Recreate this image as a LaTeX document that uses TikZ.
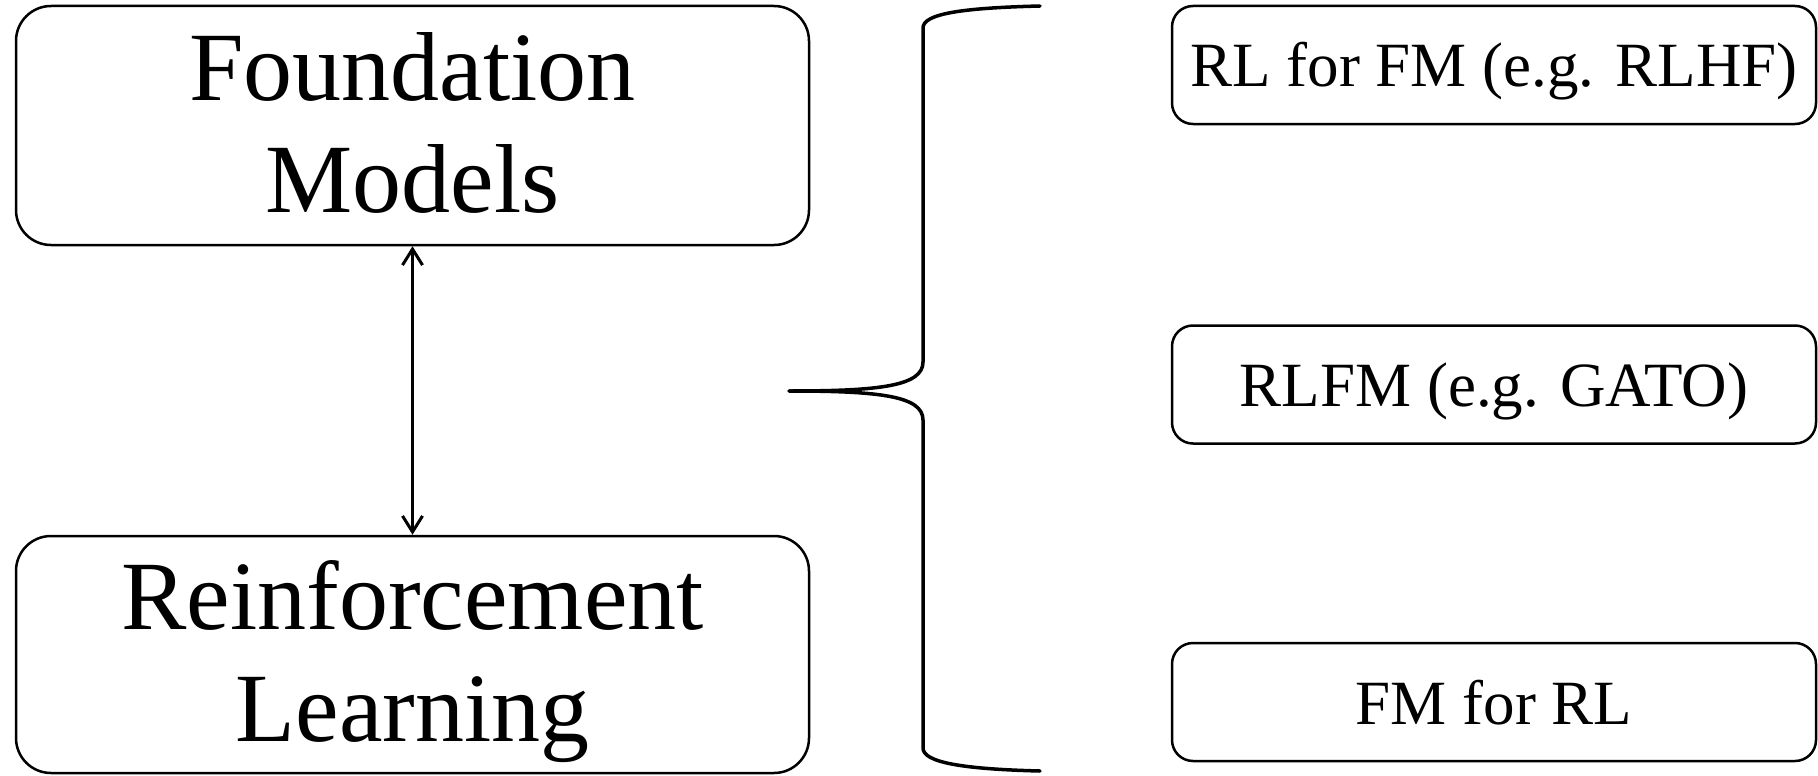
\documentclass[tikz,border=0pt]{standalone}
\usepackage{fontspec}
\setmainfont{Liberation Serif}
\usetikzlibrary{arrows.meta}
\newcommand{\topstrut}{\rule{0pt}{85pt}}
\newcommand{\botstrut}{\rule[-24pt]{0pt}{24pt}}
\begin{document}
\begin{tikzpicture}[x=1pt,y=-1pt,
  bigbox/.style={draw, line width=2.5pt, rounded corners=35pt, align=center,
    font=\fontsize{98}{112}\selectfont, inner sep=0pt, minimum width=793pt},
  smallbox/.style={draw, line width=2.5pt, rounded corners=21pt, align=center,
    font=\fontsize{63}{72}\selectfont, inner sep=0pt,
    text height=44pt, text depth=0pt,
    minimum width=644pt, minimum height=118pt},
  link/.style={line width=3pt, {Straight Barb[length=16pt,width=20pt]}-{Straight Barb[length=16pt,width=20pt]}},
  brace/.style={line width=3.5pt, line cap=round, line join=round}]
\useasboundingbox (0,0) rectangle (1818,776);
\node[bigbox, minimum height=239pt] (fm) at (412.5,125.5) {\topstrut Foundation\\Models\botstrut};
\node[bigbox, minimum height=237pt] (rl) at (412.5,654.5) {\topstrut Reinforcement\\Learning\botstrut};
\draw[link] (fm.south) -- (rl.north);
\node[smallbox] (b1) at (1494,65) {RL for FM (e.g. RLHF)};
\node[smallbox] (b2) at (1494,384.5) {RLFM (e.g. GATO)};
\node[smallbox] (b3) at (1494,702) {FM for RL};
\coordinate (tip) at (789,391);
\coordinate (btop) at (1040,6);
\coordinate (bbot) at (1040,771);
\draw[brace] (btop) .. controls (960,8) and (923,14) .. (923,28)
  -- (923,362) .. controls (923,386) and (880,391) .. (tip);
\draw[brace] (tip) .. controls (880,391) and (923,396) .. (923,420)
  -- (923,748) .. controls (923,762) and (960,769) .. (bbot);
\end{tikzpicture}
\end{document}
